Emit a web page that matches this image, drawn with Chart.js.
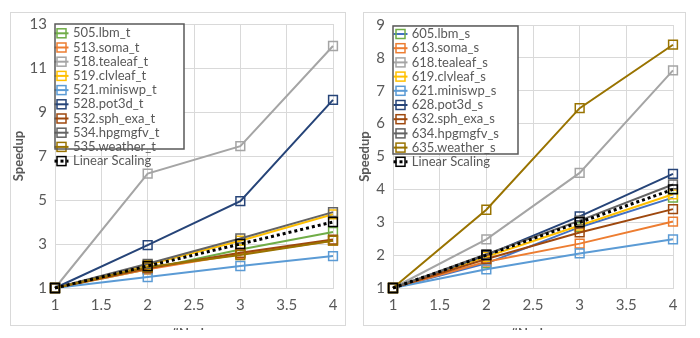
<!DOCTYPE html>
<html>
<head>
<meta charset="utf-8">
<script src="https://cdn.jsdelivr.net/npm/chart.js@4.4.1/dist/chart.umd.min.js"></script>
<style>
  html, body { margin: 0; padding: 0; background: #ffffff; }
  body { width: 700px; height: 338px; position: relative; overflow: hidden; }
  .frame { position: absolute; border: 1px solid #d9d9d9; box-sizing: border-box; }
  .clip { position: absolute; top: 0; height: 330px; width: 350px; overflow: hidden; }
  .clip canvas { position: absolute; left: 0; top: 0; }
</style>
</head>
<body>
<div class="frame" style="left:10px; top:12px; width:336px; height:314px;"></div>
<div class="frame" style="left:363px; top:12px; width:323px; height:314px;"></div>
<div class="clip" style="left:0px;"><canvas id="c1" width="350" height="345"></canvas></div>
<div class="clip" style="left:350px;"><canvas id="c2" width="350" height="345"></canvas></div>
<script>
// ---------- data ----------
const nodes = [1, 2, 3, 4];

const labelsT = ['505.lbm_t', '513.soma_t', '518.tealeaf_t', '519.clvleaf_t', '521.miniswp_t',
                 '528.pot3d_t', '532.sph_exa_t', '534.hpgmgfv_t', '535.weather_t', 'Linear Scaling'];
const lbm_t     = [1, 1.85, 2.75, 3.55];
const soma_t    = [1, 1.85, 2.55, 3.15];
const tealeaf_t = [1, 6.2, 7.45, 12.0];
const clvleaf_t = [1, 2.05, 3.15, 4.35];
const miniswp_t = [1, 1.5, 2.0, 2.45];
const pot3d_t   = [1, 2.95, 4.95, 9.55];
const sph_exa_t = [1, 1.9, 2.6, 3.2];
const hpgmgfv_t = [1, 2.1, 3.25, 4.45];
const weather_t = [1, 1.95, 2.5, 3.15];
const linear    = [1, 2, 3, 4];

const labelsS = ['605.lbm_s', '613.soma_s', '618.tealeaf_s', '619.clvleaf_s', '621.miniswp_s',
                 '628.pot3d_s', '632.sph_exa_s', '634.hpgmgfv_s', '635.weather_s', 'Linear Scaling'];
const lbm_s     = [1, 1.75, 2.85, 3.75];
const soma_s    = [1, 1.8, 2.35, 3.02];
const tealeaf_s = [1, 2.48, 4.5, 7.62];
const clvleaf_s = [1, 1.95, 2.9, 3.85];
const miniswp_s = [1, 1.57, 2.05, 2.48];
const pot3d_s   = [1, 2.0, 3.18, 4.47];
const sph_exa_s = [1, 1.88, 2.69, 3.4];
const hpgmgfv_s = [1, 2.03, 3.05, 4.15];
const weather_s = [1, 3.38, 6.47, 8.4];

const xTicks = [1, 1.5, 2, 2.5, 3, 3.5, 4];
const yTicksT = [1, 3, 5, 7, 9, 11, 13];
const yTicksS = [1, 2, 3, 4, 5, 6, 7, 8, 9];

// ---------- styles ----------
const lineColors  = ['#70AD47', '#ED7D31', '#A5A5A5', '#FFC000', '#5B9BD5', '#264478', '#9E480E', '#636363', '#997300', '#000000'];
const lineColorsS = ['#4472C4', '#ED7D31', '#A5A5A5', '#FFC000', '#5B9BD5', '#264478', '#9E480E', '#636363', '#997300', '#000000'];
const FONT = 'Lato, "Liberation Sans", sans-serif';
const TXT = '#595959';
const GRID = '#d9d9d9';

function makeDatasets(labels, series, colors) {
  return series.map((vals, i) => {
    const isLin = i === series.length - 1;
    return {
      label: labels[i],
      data: nodes.map((x, k) => ({x: x, y: vals[k]})),
      borderColor: colors[i],
      pointBorderColor: isLin ? '#000000' : lineColors[i],
      pointBackgroundColor: 'rgba(0,0,0,0)',
      pointStyle: 'rect',
      pointRadius: 6.2,
      pointHoverRadius: 6.2,
      pointBorderWidth: 1.5,
      borderWidth: isLin ? 3 : 2,
      borderDash: isLin ? [3, 3] : [],
      tension: 0,
      fill: false,
      clip: false,
      order: -i
    };
  });
}

const boxLegend = {
  id: 'boxLegend',
  afterDraw(chart, args, o) {
    const ctx = chart.ctx;
    const dsets = chart.data.datasets;
    ctx.save();
    ctx.fillStyle = '#ffffff';
    ctx.fillRect(o.x, o.y, o.w, o.h);
    dsets.forEach((ds, i) => {
      const cy = o.y0 + i * o.step;
      ctx.setLineDash(ds.borderDash || []);
      ctx.strokeStyle = ds.borderColor;
      ctx.lineWidth = ds.borderWidth;
      ctx.beginPath();
      ctx.moveTo(o.mx - 7, cy);
      ctx.lineTo(o.mx + 7, cy);
      ctx.stroke();
      ctx.setLineDash([]);
      ctx.strokeStyle = ds.pointBorderColor;
      ctx.lineWidth = 1.5;
      ctx.strokeRect(o.mx - 4.5, cy - 4.5, 9, 9);
      ctx.fillStyle = TXT;
      ctx.font = '13px ' + FONT;
      ctx.textAlign = 'left';
      ctx.textBaseline = 'middle';
      ctx.fillText(ds.label, o.tx, cy);
    });
    ctx.strokeStyle = '#595959';
    ctx.lineWidth = 1.5;
    ctx.strokeRect(o.x, o.y, o.w, o.h);
    ctx.restore();
  }
};

function makeChart(id, datasets, yMax, yTickVals, yWidth, pad, yTitlePad, leg) {
  return new Chart(document.getElementById(id), {
    type: 'line',
    data: { datasets: datasets },
    plugins: [boxLegend],
    options: {
      responsive: false,
      animation: false,
      devicePixelRatio: 1,
      layout: { padding: pad },
      plugins: {
        legend: { display: false },
        tooltip: { enabled: false },
        boxLegend: leg
      },
      scales: {
        x: {
          type: 'linear', min: 1, max: 4,
          afterBuildTicks: s => { s.ticks = xTicks.map(v => ({value: v})); },
          afterFit: s => { s.height = 57; },
          ticks: { color: TXT, font: { family: FONT, size: 15 }, padding: 8, maxRotation: 0,
                   callback: v => String(v) },
          grid: { color: GRID, lineWidth: 1, drawTicks: false },
          border: { color: GRID },
          title: { display: true, text: '#Nodes', color: TXT, font: { family: FONT, size: 13, weight: 'bold' }, padding: { top: 0, bottom: 3 } }
        },
        y: {
          type: 'linear', min: 1, max: yMax,
          afterBuildTicks: s => { s.ticks = yTickVals.map(v => ({value: v})); },
          afterFit: s => { s.width = yWidth; },
          ticks: { color: TXT, font: { family: FONT, size: 15 }, padding: 8, callback: v => String(v) },
          grid: { color: GRID, lineWidth: 1, drawTicks: false },
          border: { color: GRID },
          title: { display: true, text: 'Speedup', color: TXT, font: { family: FONT, size: 13, weight: 'bold' }, padding: { top: yTitlePad, bottom: 0 } }
        }
      }
    }
  });
}

makeChart('c1',
  makeDatasets(labelsT, [lbm_t, soma_t, tealeaf_t, clvleaf_t, miniswp_t, pot3d_t, sph_exa_t, hpgmgfv_t, weather_t, linear], lineColors),
  13, yTicksT, 55, { left: 0, right: 17, top: 24, bottom: 0 }, 11,
  { x: 55, y: 24, w: 129, h: 125, mx: 61.5, tx: 73, y0: 33.3, step: 14.2 });

makeChart('c2',
  makeDatasets(labelsS, [lbm_s, soma_s, tealeaf_s, clvleaf_s, miniswp_s, pot3d_s, sph_exa_s, hpgmgfv_s, weather_s, linear], lineColorsS),
  9, yTicksS, 43, { left: 0, right: 27, top: 25, bottom: 0 }, 7,
  { x: 43, y: 26, w: 125, h: 128, mx: 50.5, tx: 61.7, y0: 34, step: 14.2 });
</script>
</body>
</html>
